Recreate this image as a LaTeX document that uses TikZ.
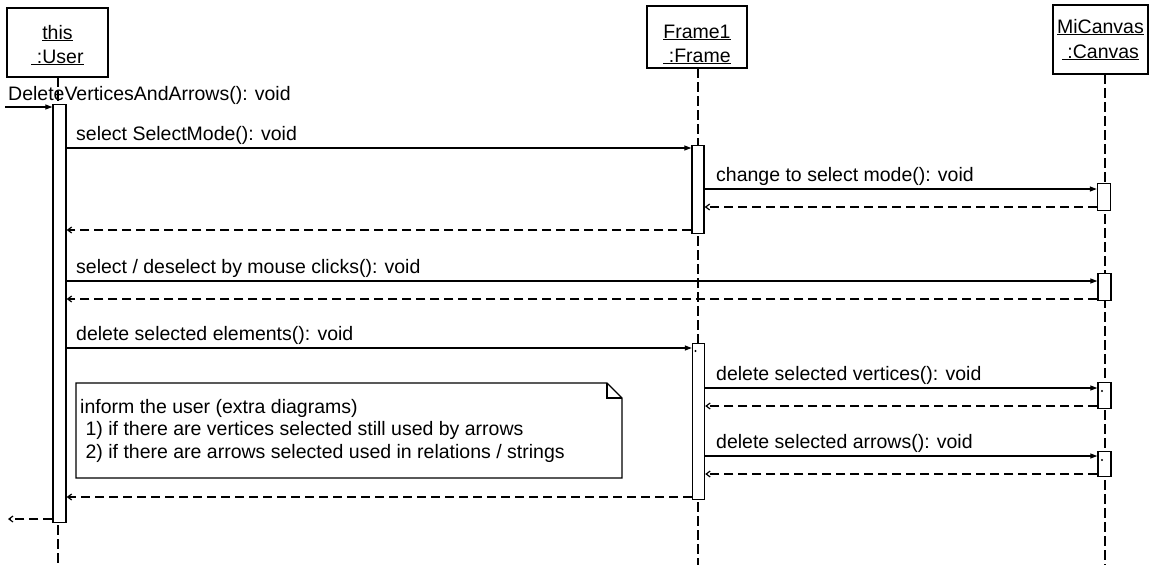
\documentclass[tikz,border=0pt]{standalone}
\usepackage{fontspec}
\setmainfont{Liberation Sans}
\usetikzlibrary{arrows.meta}
\tikzset{
  objbox/.style={draw, line width=1.4pt, inner sep=0pt},
  hdr/.style={anchor=base, inner sep=0pt},
  lifeline/.style={line width=1.6pt, dash pattern=on 10pt off 4pt},
  actbar/.style={draw, fill=white, line width=1.4pt, anchor=north, inner sep=0pt, minimum width=13pt},
  call/.style={line width=1.2pt, -{Triangle[length=7pt,width=5pt]}},
  ret/.style={line width=1.2pt, dash pattern=on 9pt off 5pt, -{Straight Barb[length=4pt,width=6pt]}},
  msg/.style={anchor=base west, inner sep=0pt},
  tick/.style={circle, fill=black, inner sep=0pt, minimum size=2.4pt}
}
\begin{document}
\begin{tikzpicture}[x=1pt, y=-1pt, font=\fontsize{19.5}{23}\selectfont]
\useasboundingbox (0,0) rectangle (1152,565);

% object headers
\node[objbox, minimum width=101pt, minimum height=69pt] (user) at (57.5,42.5) {};
\node[hdr] (userA) at (57.5,39) {\underline{this}};
\node[hdr] (userB) at (57.5,63) {\underline{\ :User}};

\node[objbox, minimum width=100pt, minimum height=62pt] (frame) at (697,37) {};
\node[hdr] (frameA) at (697,38) {\underline{Frame1}};
\node[hdr] (frameB) at (697,62) {\underline{\ :Frame}};

\node[objbox, minimum width=95pt, minimum height=69pt] (canvas) at (1100.5,39.5) {};
\node[hdr] (canvasA) at (1100.5,33) {\underline{MiCanvas}};
\node[hdr] (canvasB) at (1100.5,58) {\underline{\ :Canvas}};

% lifelines
\coordinate (userTop) at (58,77);
\coordinate (userEnd) at (58,565);
\coordinate (frameTop) at (698,68);
\coordinate (frameEnd) at (698,565);
\coordinate (canvasTop) at (1105,74);
\coordinate (canvasEnd) at (1105,565);
\draw[lifeline] (userTop) -- (userEnd);
\draw[lifeline] (frameTop) -- (frameEnd);
\draw[lifeline] (canvasTop) -- (canvasEnd);

% activation bars
\node[actbar, minimum height=418pt] (ubar) at (59.5,104) {};
\node[actbar, minimum width=12pt, minimum height=88pt] (fbarA) at (698,145) {};
\node[actbar, minimum width=12pt, minimum height=156pt] (fbarB) at (698.5,343) {};
\node[actbar, minimum height=27pt] (cbarA) at (1104,183) {};
\node[actbar, minimum height=27pt] (cbarB) at (1104.5,273) {};
\node[actbar, minimum height=26pt] (cbarC) at (1104.5,382) {};
\node[actbar, minimum height=25pt] (cbarD) at (1104.5,451) {};
\node[tick] (tB) at (695.5,351) {};
\node[tick] (tC) at (1102,391) {};
\node[tick] (tD) at (1102,460) {};

% found message
\coordinate (found) at (5,107);
\draw[call] (found) -- (ubar.west |- found);
\node[msg] (lbl0) at (8,100) {DeleteVerticesAndArrows(): void};

% select mode
\draw[call] (ubar.east |- 0,148) -- (fbarA.west |- 0,148);
\node[msg] (lbl1) at (76,140) {select SelectMode(): void};
\draw[call] (fbarA.east |- 0,189) -- (cbarA.west |- 0,189);
\node[msg] (lbl2) at (716,181) {change to select mode(): void};
\draw[ret] (cbarA.west |- 0,207) -- (fbarA.east |- 0,207);
\draw[ret] (fbarA.west |- 0,230) -- (ubar.east |- 0,230);

% mouse selection
\draw[call] (ubar.east |- 0,281) -- (cbarB.west |- 0,281);
\node[msg] (lbl3) at (76,273) {select / deselect by mouse clicks(): void};
\draw[ret] (cbarB.west |- 0,299) -- (ubar.east |- 0,299);

% deletion
\draw[call] (ubar.east |- 0,348) -- (fbarB.west |- 0,348);
\node[msg] (lbl4) at (76,340) {delete selected elements(): void};
\draw[call] (fbarB.east |- 0,388) -- (cbarC.west |- 0,388);
\node[msg] (lbl5) at (716,380) {delete selected vertices(): void};
\draw[ret] (cbarC.west |- 0,406) -- (fbarB.east |- 0,406);
\draw[call] (fbarB.east |- 0,456) -- (cbarD.west |- 0,456);
\node[msg] (lbl6) at (716,448) {delete selected arrows(): void};
\draw[ret] (cbarD.west |- 0,474) -- (fbarB.east |- 0,474);
\draw[ret] (fbarB.west |- 0,497) -- (ubar.east |- 0,497);

% final return
\coordinate (back) at (8,519);
\draw[ret] (ubar.west |- back) -- (back);

% note (multi-line node: base anchor sits on the last line)
\draw[line width=1.3pt, fill=white] (76,383) -- (607,383) -- (622,398) -- (622,478) -- (76,478) -- cycle;
\draw[line width=1.1pt] (607,383) -- (607,398) -- (622,398);
\node[anchor=base west, inner sep=0pt, align=left, font=\fontsize{19.5}{22.5}\selectfont] (note) at (80,458)
  {inform the user (extra diagrams)\\
   \ 1) if there are vertices selected still used by arrows\\
   \ 2) if there are arrows selected used in relations / strings};
\end{tikzpicture}
\end{document}
